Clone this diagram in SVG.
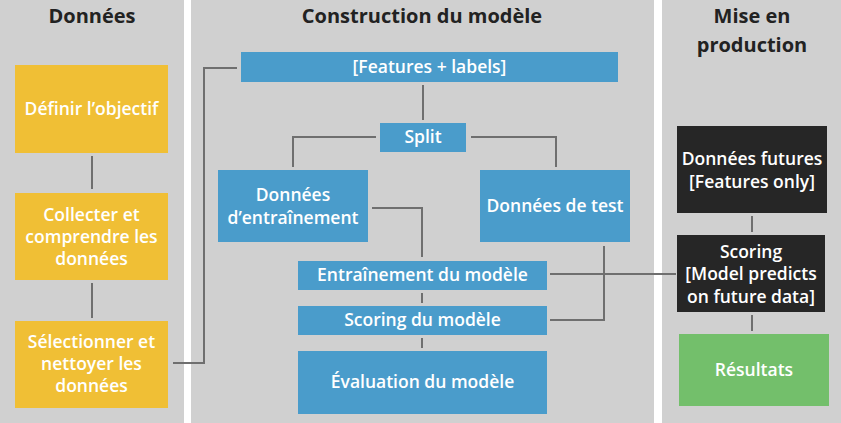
<svg xmlns="http://www.w3.org/2000/svg" width="841" height="423" viewBox="0 0 841 423">
<style>
.panel{fill:#d0d0d0}
.title{font-family:"Open Sans",Lato,"Liberation Sans",sans-serif;font-weight:bold;font-size:20px;fill:#222;text-anchor:middle}
.lbl{font-family:"Open Sans",Lato,"Liberation Sans",sans-serif;font-weight:600;font-size:17.5px;fill:#fff;text-anchor:middle}
.y{fill:#f0bf35}
.b{fill:#4a9ccb}
.k{fill:#262626}
.g{fill:#73bf6b}
.c{fill:none;stroke:#6f6f6f;stroke-width:2}
</style>
<rect width="841" height="423" fill="#ffffff"/>
<rect class="panel" x="0" y="0" width="184" height="423"/>
<rect class="panel" x="191" y="0" width="463" height="423"/>
<rect class="panel" x="662" y="0" width="179" height="423"/>
<text class="title" x="92" y="23">Données</text>
<text class="title" x="422" y="23">Construction du modèle</text>
<text class="title" x="752" y="23">Mise en</text>
<text class="title" x="752" y="52">production</text>
<g id="connectors">
<line class="c" x1="92" y1="156" x2="92" y2="189"/>
<line class="c" x1="92" y1="283" x2="92" y2="318"/>
<polyline class="c" points="173,363 204,363 204,68 237,68"/>
<line class="c" x1="423" y1="85" x2="423" y2="120"/>
<polyline class="c" points="376,137 293,137 293,167"/>
<polyline class="c" points="471,137 556,137 556,167"/>
<polyline class="c" points="372,208 422,208 422,257"/>
<line class="c" x1="422" y1="293" x2="422" y2="303"/>
<line class="c" x1="422" y1="338" x2="422" y2="348"/>
<polyline class="c" points="604,246 604,320 550,320"/>
<line class="c" x1="550" y1="274" x2="676" y2="274"/>
<line class="c" x1="752" y1="216" x2="752" y2="232"/>
<line class="c" x1="752" y1="315" x2="752" y2="331"/>
</g>
<g id="definir"><rect class="y" x="15" y="65" width="153" height="88"/><text class="lbl" x="91.5" y="115">Définir l’objectif</text></g>
<g id="collecter"><rect class="y" x="15" y="193" width="153" height="87"/><text class="lbl" x="91.5" y="221">Collecter et</text><text class="lbl" x="91.5" y="243">comprendre les</text><text class="lbl" x="91.5" y="265">données</text></g>
<g id="selectionner"><rect class="y" x="15" y="321" width="153" height="87"/><text class="lbl" x="91.5" y="348">Sélectionner et</text><text class="lbl" x="91.5" y="370">nettoyer les</text><text class="lbl" x="91.5" y="392">données</text></g>
<g id="features"><rect class="b" x="241" y="52" width="377" height="30"/><text class="lbl" x="429.5" y="73">[Features + labels]</text></g>
<g id="split"><rect class="b" x="380" y="123" width="86" height="29"/><text class="lbl" x="423" y="143">Split</text></g>
<g id="train"><rect class="b" x="218" y="170" width="150" height="72"/><text class="lbl" x="293" y="201">Données</text><text class="lbl" x="293" y="224">d’entraînement</text></g>
<g id="test"><rect class="b" x="480" y="170" width="150" height="72"/><text class="lbl" x="555" y="212">Données de test</text></g>
<g id="entrainement"><rect class="b" x="298" y="261" width="249" height="29"/><text class="lbl" x="422.5" y="281">Entraînement du modèle</text></g>
<g id="scoring-modele"><rect class="b" x="298" y="306" width="249" height="29"/><text class="lbl" x="422.5" y="326">Scoring du modèle</text></g>
<g id="evaluation"><rect class="b" x="298" y="351" width="249" height="63"/><text class="lbl" x="422.5" y="388">Évaluation du modèle</text></g>
<g id="futures"><rect class="k" x="677" y="126" width="150" height="87"/><text class="lbl" x="752" y="165">Données futures</text><text class="lbl" x="752" y="188">[Features only]</text></g>
<g id="scoring-prod"><rect class="k" x="677" y="235" width="148" height="77"/><text class="lbl" x="751" y="258">Scoring</text><text class="lbl" x="751" y="280">[Model predicts</text><text class="lbl" x="751" y="303">on future data]</text></g>
<g id="resultats"><rect class="g" x="679" y="334" width="150" height="72"/><text class="lbl" x="754" y="376">Résultats</text></g>
</svg>
